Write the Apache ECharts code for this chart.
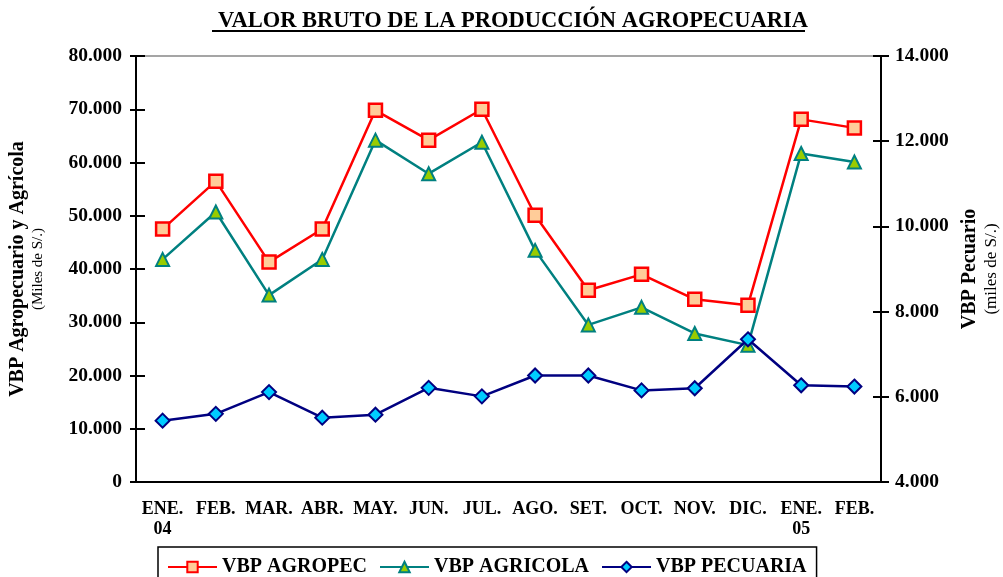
<!DOCTYPE html>
<html lang="es">
<head>
    <meta charset="UTF-8">
    <title>Valor Bruto de la Producción Agropecuaria</title>
    <script src="https://cdn.jsdelivr.net/npm/echarts@6/dist/echarts.min.js"></script>
    <style>
        html, body { margin: 0; padding: 0; background: #fff; }
        #chart { width: 1003px; height: 577px; }
    </style>
</head>
<body>
<div id="chart"></div>
<script>
    // months (two-line labels for year changes)
    const months = ['ENE.\n04', 'FEB.', 'MAR.', 'ABR.', 'MAY.', 'JUN.', 'JUL.', 'AGO.', 'SET.', 'OCT.', 'NOV.', 'DIC.', 'ENE.\n05', 'FEB.'];

    // miles de S/.
    const vbpAgropec = [47500, 56500, 41300, 47500, 69800, 64200, 70000, 50100, 36000, 39000, 34300, 33200, 68100, 66500];
    const vbpAgricola = [41800, 50700, 35100, 41800, 64200, 57900, 63800, 43500, 29500, 32800, 27900, 25700, 61700, 60100];
    const vbpPecuaria = [5440, 5600, 6110, 5510, 5580, 6210, 6010, 6500, 6500, 6150, 6200, 7350, 6270, 6240];

    const serif = '"Liberation Serif", "Times New Roman", serif';

    function miles(v) {
        return String(v).replace(/\B(?=(\d{3})+(?!\d))/g, '.');
    }

    const chart = echarts.init(document.getElementById('chart'));

    const leftAxis = { min: 0, max: 80000, interval: 10000 };
    const rightAxis = { min: 4000, max: 14000, interval: 2000 };
    const tickStyle = { color: '#000', width: 2 };

    chart.setOption({
        animation: false,
        title: {
            text: 'VALOR BRUTO DE LA PRODUCCIÓN AGROPECUARIA',
            left: 508,
            textAlign: 'center',
            top: 5,
            textStyle: { fontFamily: serif, fontWeight: 'bold', fontSize: 22.5, color: '#000' }
        },
        graphic: [{
            // underline of the title
            type: 'line',
            shape: { x1: 212, y1: 31, x2: 805, y2: 31 },
            style: { stroke: '#000', lineWidth: 2 }
        }],
        grid: {
            left: 136, right: 122, top: 56, bottom: 95,
            outerBoundsMode: 'none',
            show: true, borderColor: '#888', borderWidth: 1.5
        },
        legend: {
            left: 158, top: 547,
            itemWidth: 49, itemHeight: 13, itemGap: 12,
            padding: [10, 10, 14, 9],
            borderColor: '#000', borderWidth: 1.5,
            textStyle: { fontFamily: serif, fontWeight: 'bold', fontSize: 20, color: '#000' },
            data: ['VBP AGROPEC', 'VBP AGRICOLA', 'VBP PECUARIA']
        },
        xAxis: [{
            type: 'category',
            data: months,
            axisLine: { lineStyle: { color: '#000', width: 2 } },
            axisTick: { length: 6, lineStyle: tickStyle },
            axisLabel: {
                margin: 17, color: '#000', fontFamily: serif, fontWeight: 'bold',
                fontSize: 18, lineHeight: 20, interval: 0
            }
        }, {
            // inside half of the crossing ticks
            type: 'category',
            data: months,
            position: 'bottom',
            axisLine: { show: false },
            axisTick: { inside: true, length: 6, lineStyle: tickStyle },
            axisLabel: { show: false }
        }],
        yAxis: [{
            type: 'value',
            position: 'left',
            ...leftAxis,
            name: '{a|VBP Agropecuario y Agrícola}\n{b|(Miles de S/.)}',
            nameLocation: 'middle',
            nameRotate: 90,
            nameGap: 89,
            nameTextStyle: {
                rich: {
                    a: { fontFamily: serif, fontWeight: 'bold', fontSize: 20, color: '#000', lineHeight: 22 },
                    b: { fontFamily: serif, fontSize: 15, color: '#000', lineHeight: 18 }
                }
            },
            axisLine: { show: true, lineStyle: { color: '#000', width: 2 } },
            axisTick: { show: true, length: 6, lineStyle: tickStyle },
            splitLine: { show: false },
            axisLabel: {
                margin: 14, color: '#000', fontFamily: serif, fontWeight: 'bold', fontSize: 19.5,
                formatter: miles
            }
        }, {
            type: 'value',
            position: 'right',
            ...rightAxis,
            name: '{a|VBP Pecuario}\n{b|(miles de S/.)}',
            nameLocation: 'middle',
            nameRotate: 90,
            nameGap: 77,
            nameTextStyle: {
                rich: {
                    a: { fontFamily: serif, fontWeight: 'bold', fontSize: 20, color: '#000', lineHeight: 22 },
                    b: { fontFamily: serif, fontSize: 17, color: '#000', lineHeight: 22 }
                }
            },
            axisLine: { show: true, lineStyle: { color: '#000', width: 2 } },
            axisTick: { show: true, length: 8, lineStyle: tickStyle },
            splitLine: { show: false },
            axisLabel: {
                margin: 14, color: '#000', fontFamily: serif, fontWeight: 'bold', fontSize: 19.5,
                formatter: miles
            }
        }, {
            type: 'value', position: 'left', ...leftAxis,
            axisLine: { show: false },
            axisTick: { show: true, inside: true, length: 9, lineStyle: tickStyle },
            axisLabel: { show: false }, splitLine: { show: false }
        }, {
            type: 'value', position: 'right', ...rightAxis,
            axisLine: { show: false },
            axisTick: { show: true, inside: true, length: 8, lineStyle: tickStyle },
            axisLabel: { show: false }, splitLine: { show: false }
        }],
        series: [{
            name: 'VBP AGROPEC',
            type: 'line',
            yAxisIndex: 0,
            data: vbpAgropec,
            symbol: 'rect',
            symbolSize: 13,
            lineStyle: { color: '#FF0000', width: 2.5 },
            itemStyle: { color: '#FFCC99', borderColor: '#FF0000', borderWidth: 2.5 }
        }, {
            name: 'VBP AGRICOLA',
            type: 'line',
            yAxisIndex: 0,
            data: vbpAgricola,
            symbol: 'triangle',
            symbolSize: 13,
            lineStyle: { color: '#008080', width: 2.5 },
            itemStyle: { color: '#99CC00', borderColor: '#008080', borderWidth: 2 }
        }, {
            name: 'VBP PECUARIA',
            type: 'line',
            yAxisIndex: 1,
            data: vbpPecuaria,
            symbol: 'diamond',
            symbolSize: 14,
            lineStyle: { color: '#000080', width: 2.5 },
            itemStyle: { color: '#00CCFF', borderColor: '#000080', borderWidth: 2 }
        }]
    });
</script>
</body>
</html>
